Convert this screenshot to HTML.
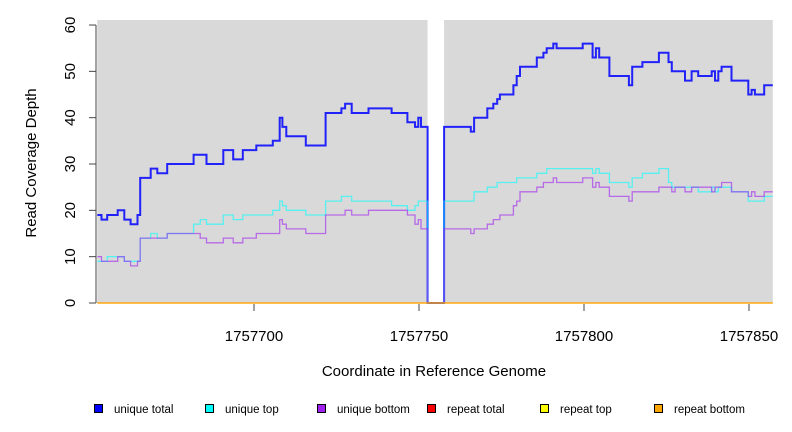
<!DOCTYPE html>
<html><head><meta charset="utf-8"><style>
body{margin:0;background:#fff;}
svg{display:block;font-family:"Liberation Sans",sans-serif;}
</style></head><body>
<svg id="chart" width="792" height="432"></svg>
<script>
const xTicks=[1757700,1757750,1757800,1757850];
const yTicks=[0,10,20,30,40,50,60];
const totalX=[1757652.5,1757653.8,1757655.5,1757658.7,1757660.7,1757662.6,1757664.7,1757665.5,1757668.7,1757670.7,1757673.7,1757681.7,1757685.6,1757690.7,1757693.7,1757696.6,1757700.7,1757705.7,1757707.8,1757708.6,1757709.8,1757715.7,1757721.7,1757726.5,1757727.6,1757729.6,1757734.7,1757741.7,1757746.5,1757748.8,1757749.8,1757750.6,1757752.6,1757757.6,1757765.7,1757766.7,1757770.7,1757772.5,1757773.7,1757774.5,1757778.6,1757779.6,1757780.6,1757785.7,1757787.7,1757788.7,1757790.7,1757791.7,1757799.6,1757802.6,1757803.6,1757804.6,1757807.7,1757813.6,1757814.6,1757817.7,1757822.7,1757825.6,1757826.6,1757830.6,1757832.6,1757834.6,1757838.7,1757839.7,1757840.7,1757841.7,1757844.7,1757849.8,1757850.8,1757851.8,1757854.6];
const totalV=[19,18,19,20,18,17,19,27,29,28,30,32,30,33,31,33,34,35,40,38,36,34,41,42,43,41,42,41,39,38,40,38,0,38,37,40,42,43,44,45,47,49,51,53,54,55,56,55,56,53,55,53,49,47,51,52,54,52,50,48,50,49,50,48,50,51,48,45,46,45,47];
const topX=[1757652.5,1757655.5,1757660.7,1757665.5,1757668.7,1757670.7,1757673.7,1757681.7,1757683.7,1757685.6,1757690.7,1757693.7,1757696.6,1757705.7,1757707.8,1757708.6,1757709.8,1757715.7,1757721.7,1757726.5,1757729.6,1757741.7,1757746.5,1757748.8,1757749.8,1757752.6,1757757.6,1757766.7,1757770.7,1757773.7,1757779.6,1757785.7,1757788.7,1757802.6,1757803.6,1757804.6,1757807.7,1757813.6,1757814.6,1757817.7,1757822.7,1757825.6,1757826.6,1757834.6,1757838.7,1757839.7,1757840.7,1757844.7,1757849.8,1757854.6];
const topV=[9,10,9,14,15,14,15,17,18,17,19,18,19,20,22,21,20,19,22,23,22,21,20,21,22,0,22,24,25,26,27,28,29,28,29,28,26,25,27,28,29,26,25,24,25,24,25,24,22,23];
const bottomX=[1757652.5,1757653.8,1757658.7,1757660.7,1757662.6,1757664.7,1757665.5,1757673.7,1757683.7,1757685.6,1757690.7,1757693.7,1757696.6,1757700.7,1757707.8,1757708.6,1757709.8,1757715.7,1757721.7,1757727.6,1757729.6,1757734.7,1757746.5,1757748.8,1757749.8,1757750.6,1757752.6,1757757.6,1757765.7,1757766.7,1757770.7,1757772.5,1757774.5,1757778.6,1757779.6,1757780.6,1757785.7,1757787.7,1757790.7,1757791.7,1757799.6,1757802.6,1757803.6,1757804.6,1757807.7,1757813.6,1757814.6,1757822.7,1757826.6,1757827.6,1757830.6,1757832.6,1757838.7,1757839.7,1757841.7,1757844.7,1757849.8,1757850.8,1757851.8,1757854.6];
const bottomV=[10,9,10,9,8,9,14,15,14,13,14,13,14,15,18,17,16,15,19,20,19,20,19,17,18,16,0,16,15,16,17,18,19,21,22,24,25,26,27,26,27,25,26,25,23,22,24,25,24,25,24,25,24,25,26,24,23,24,23,24];
const repeatX=[1757652.5];
const repeatTotalV=[0];
const repeatTopV=[0];
const repeatBottomV=[0];
const legendLabels=["unique total","unique top","unique bottom","repeat total","repeat top","repeat bottom"];

const NS="http://www.w3.org/2000/svg";
const svg=document.getElementById('chart');
const X0=1757652.5,X1=1757857.2;
function sx(c){return 254+(c-1757700)*3.3;}
function sy(v){return 303-v*4.633;}
function mk(t,a,p){const e=document.createElementNS(NS,t);for(const k in a)e.setAttribute(k,a[k]);(p||svg).appendChild(e);return e;}

const bg=mk('rect',{x:sx(X0),y:20,width:sx(X1)-sx(X0),height:283,fill:'#d9d9d9'});


const gap=mk('rect',{x:sx(1757752.6),y:20,width:sx(1757757.6)-sx(1757752.6),height:283,fill:'#fff'});



function step(xs,vs,color,w,op,name){
  const n=Math.min(xs.length,vs.length);
  let d='';
  for(let i=0;i<n;i++){
    const x0=sx(xs[i]),x1=sx(i+1<n?xs[i+1]:X1),y=sy(vs[i]);
    d+=(i===0?'M':'L')+x0.toFixed(1)+','+y.toFixed(1)+'L'+x1.toFixed(1)+','+y.toFixed(1);
  }
  const p=mk('path',{d:d,fill:'none',stroke:color,'stroke-width':w,'stroke-opacity':op});
  
  
}
step(totalX,totalV,'#0000ff',2,0.85,'unique-total-line');
step(topX,topV,'#00ffff',1.3,0.6,'unique-top-line');
step(bottomX,bottomV,'#a020f0',1.3,0.6,'unique-bottom-line');
step(repeatX,repeatTotalV,'#ff0000',1.3,0.6,'repeat-total-line');
step(repeatX,repeatTopV,'#ffff00',1.3,0.6,'repeat-top-line');
step(repeatX,repeatBottomV,'#ffa500',1.3,0.8,'repeat-bottom-line');

const ya=mk('line',{x1:96,y1:sy(60),x2:96,y2:sy(0),stroke:'#444','stroke-width':1});


yTicks.forEach(v=>{
  const t=mk('line',{x1:89,y1:sy(v),x2:96,y2:sy(v),stroke:'#444'});
  
  
  const l=mk('text',{x:75,y:sy(v),'font-size':15,'text-anchor':'middle',transform:`rotate(-90 75 ${sy(v)})`});
  l.textContent=v;
  
  
});
xTicks.forEach(v=>{
  const t=mk('line',{x1:sx(v),y1:304,x2:sx(v),y2:311,stroke:'#444'});
  
  
  const l=mk('text',{x:sx(v),y:341,'font-size':15,'text-anchor':'middle'});
  l.textContent=v;
  
  
});
const xt=mk('text',{x:434,y:376,'font-size':15,'text-anchor':'middle'});
xt.textContent='Coordinate in Reference Genome';


const yt=mk('text',{x:36,y:163,'font-size':15,'text-anchor':'middle',transform:'rotate(-90 36 163)'});
yt.textContent='Read Coverage Depth';



const legCols=['#0000ff','#00ffff','#a020f0','#ff0000','#ffff00','#ffa500'];
const legX=[94,205,317,427,540,654];
legendLabels.forEach((lab,i)=>{
  const g=mk('g',{});
  
  
  mk('rect',{x:legX[i]+0.5,y:404.5,width:8,height:8,fill:legCols[i],stroke:'#000','stroke-width':1},g);
  const t=mk('text',{x:legX[i]+20,y:413,'font-size':11.5},g);
  t.textContent=lab;
});
</script>
</body></html>
